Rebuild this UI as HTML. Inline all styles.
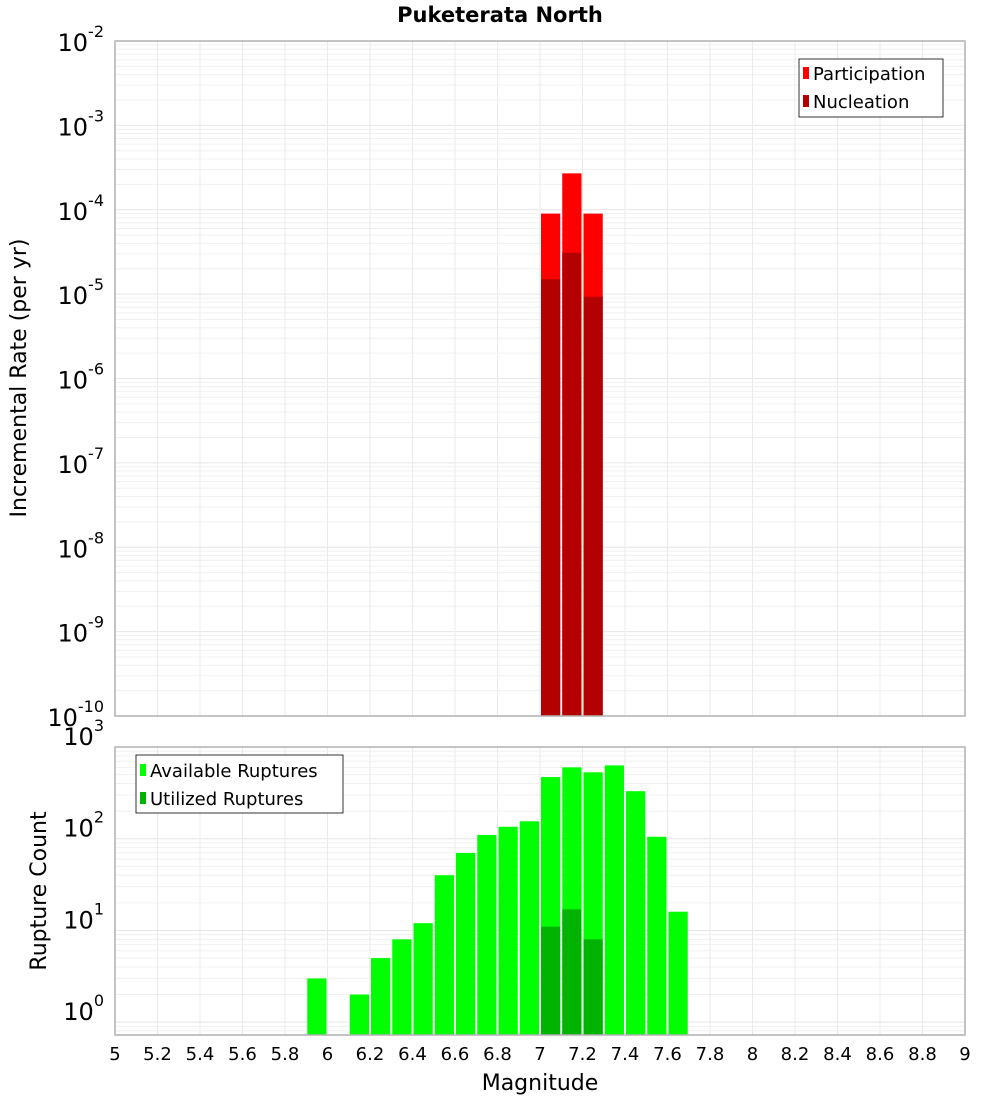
<!DOCTYPE html>
<html><head><meta charset="utf-8"><style>
body{margin:0;background:#fff;width:1000px;height:1100px;overflow:hidden}
text{font-family:"DejaVu Sans","Liberation Sans",sans-serif}
</style></head><body>
<svg id="chart" width="1000" height="1100" xmlns="http://www.w3.org/2000/svg"></svg>
<script>
const bins = [7.0, 7.1, 7.2];
const participation = [9e-5, 2.7e-4, 9e-5];
const nucleation = [1.5e-5, 3.1e-5, 9.3e-6];
const countBins = [5.9, 6.1, 6.2, 6.3, 6.4, 6.5, 6.6, 6.7, 6.8, 6.9, 7.0, 7.1, 7.2, 7.3, 7.4, 7.5, 7.6];
const available = [3, 2, 5, 8, 12, 40, 70, 110, 135, 155, 470, 600, 530, 630, 330, 105, 16];
const utilBins = [7.0, 7.1, 7.2];
const utilized = [11, 17, 8];
const xTicks = [5,5.2,5.4,5.6,5.8,6,6.2,6.4,6.6,6.8,7,7.2,7.4,7.6,7.8,8,8.2,8.4,8.6,8.8,9];
const topExps = [-2,-3,-4,-5,-6,-7,-8,-9,-10];
const botExps = [3,2,1,0];

const svg = document.getElementById('chart');
const NS = 'http://www.w3.org/2000/svg';
function el(tag, attrs, parent){const e=document.createElementNS(NS,tag);for(const k in attrs)e.setAttribute(k,attrs[k]);(parent||svg).appendChild(e);return e;}
const X0=115,X1=965;
const xs = m => X0 + (m-5)/(9-5)*(X1-X0);
const T0=41,T1=716;
const yTop = v => T0 + (-2 - Math.log10(v))/8*(T1-T0);
const B0=747,B1=1035, bMin=-0.14, bMax=3;
const yBot = v => B0 + (bMax - Math.log10(v))/(bMax-bMin)*(B1-B0);

function grid(y0,y1,yf,lo,hi){
  for(let d=lo; d<hi; d++){
    for(let k=1;k<10;k++){
      const v=k*Math.pow(10,d); const y=yf(v);
      if(y<y0-0.5||y>y1+0.5) continue;
      const g=el('line',{x1:X0,x2:X1,y1:y,y2:y,stroke:k===1?'#e6e6e6':'#f0f0f0','stroke-width':1});
      
      
    }
  }
  for(let m=5;m<=9.001;m+=0.2){
    const x=xs(m);
    const g=el('line',{x1:x,x2:x,y1:y0,y2:y1,stroke:'#ebebeb','stroke-width':1});
    
    
  }
}
grid(T0,T1,yTop,-10,-1);
grid(B0,B1,yBot,-1,4);

function bar(m,v,yf,base,color,name){
  const x=xs(m)+1, w=xs(m+0.1)-xs(m)-2, y=yf(v);
  const r=el('rect',{x:x,y:y,width:w,height:base-y,fill:color});
  
  
}
bins.forEach((m,i)=>bar(m,participation[i],yTop,T1,'#ff0000','participation-bar'));
bins.forEach((m,i)=>bar(m,nucleation[i],yTop,T1,'#b30000','nucleation-bar'));
countBins.forEach((m,i)=>bar(m,available[i],yBot,B1,'#00ff00','available-bar'));
utilBins.forEach((m,i)=>bar(m,utilized[i],yBot,B1,'#00b300','utilized-bar'));

el('rect',{x:X0,y:T0,width:X1-X0,height:T1-T0,fill:'none',stroke:'#b0b0b0','stroke-width':1.5,});
el('rect',{x:X0,y:B0,width:X1-X0,height:B1-B0,fill:'none',stroke:'#b0b0b0','stroke-width':1.5,});

function ylabel(exp,y){
  const t=el('text',{x:104,y:y+10,'text-anchor':'end','font-size':24,fill:'#000'});
  
  
  const a=document.createElementNS(NS,'tspan');a.textContent='10';t.appendChild(a);
  const b=document.createElementNS(NS,'tspan');b.setAttribute('dy',-14);b.setAttribute('font-size',16);b.textContent=String(exp);t.appendChild(b);
}
topExps.forEach(e=>ylabel(e,yTop(Math.pow(10,e))));
botExps.forEach(e=>ylabel(e,yBot(Math.pow(10,e))-12));

xTicks.forEach(m=>{
  const t=el('text',{x:xs(m),y:1060,'text-anchor':'middle','font-size':18,fill:'#000'});
  
  
  t.textContent=String(m);
});
</script>
<svg width="1000" height="1100" style="position:absolute;left:0;top:0" xmlns="http://www.w3.org/2000/svg">
<text x="500" y="22" text-anchor="middle" font-size="21" font-weight="bold" font-family="DejaVu Sans,Liberation Sans,sans-serif">Puketerata North</text>
<text transform="translate(26,378) rotate(-90)" text-anchor="middle" font-size="22" font-family="DejaVu Sans,Liberation Sans,sans-serif">Incremental Rate (per yr)</text>
<text transform="translate(46,891) rotate(-90)" text-anchor="middle" font-size="22" font-family="DejaVu Sans,Liberation Sans,sans-serif">Rupture Count</text>
<text x="540" y="1090" text-anchor="middle" font-size="22" font-family="DejaVu Sans,Liberation Sans,sans-serif">Magnitude</text>
<g font-family="DejaVu Sans,Liberation Sans,sans-serif" font-size="18">
<rect x="799" y="59" width="144" height="58" fill="#fff" stroke="#333" stroke-width="1"/>
<rect x="803" y="67" width="6" height="12" fill="#ff0000"/>
<text x="813" y="80">Participation</text>
<rect x="803" y="95" width="6" height="12" fill="#b30000"/>
<text x="813" y="108">Nucleation</text>
</g>
<g font-family="DejaVu Sans,Liberation Sans,sans-serif" font-size="18">
<rect x="136" y="755" width="207" height="58" fill="#fff" stroke="#333" stroke-width="1"/>
<rect x="140" y="764" width="6" height="12" fill="#00ff00"/>
<text x="150" y="777">Available Ruptures</text>
<rect x="140" y="792" width="6" height="12" fill="#00b300"/>
<text x="150" y="805">Utilized Ruptures</text>
</g>
</svg>
</body></html>
